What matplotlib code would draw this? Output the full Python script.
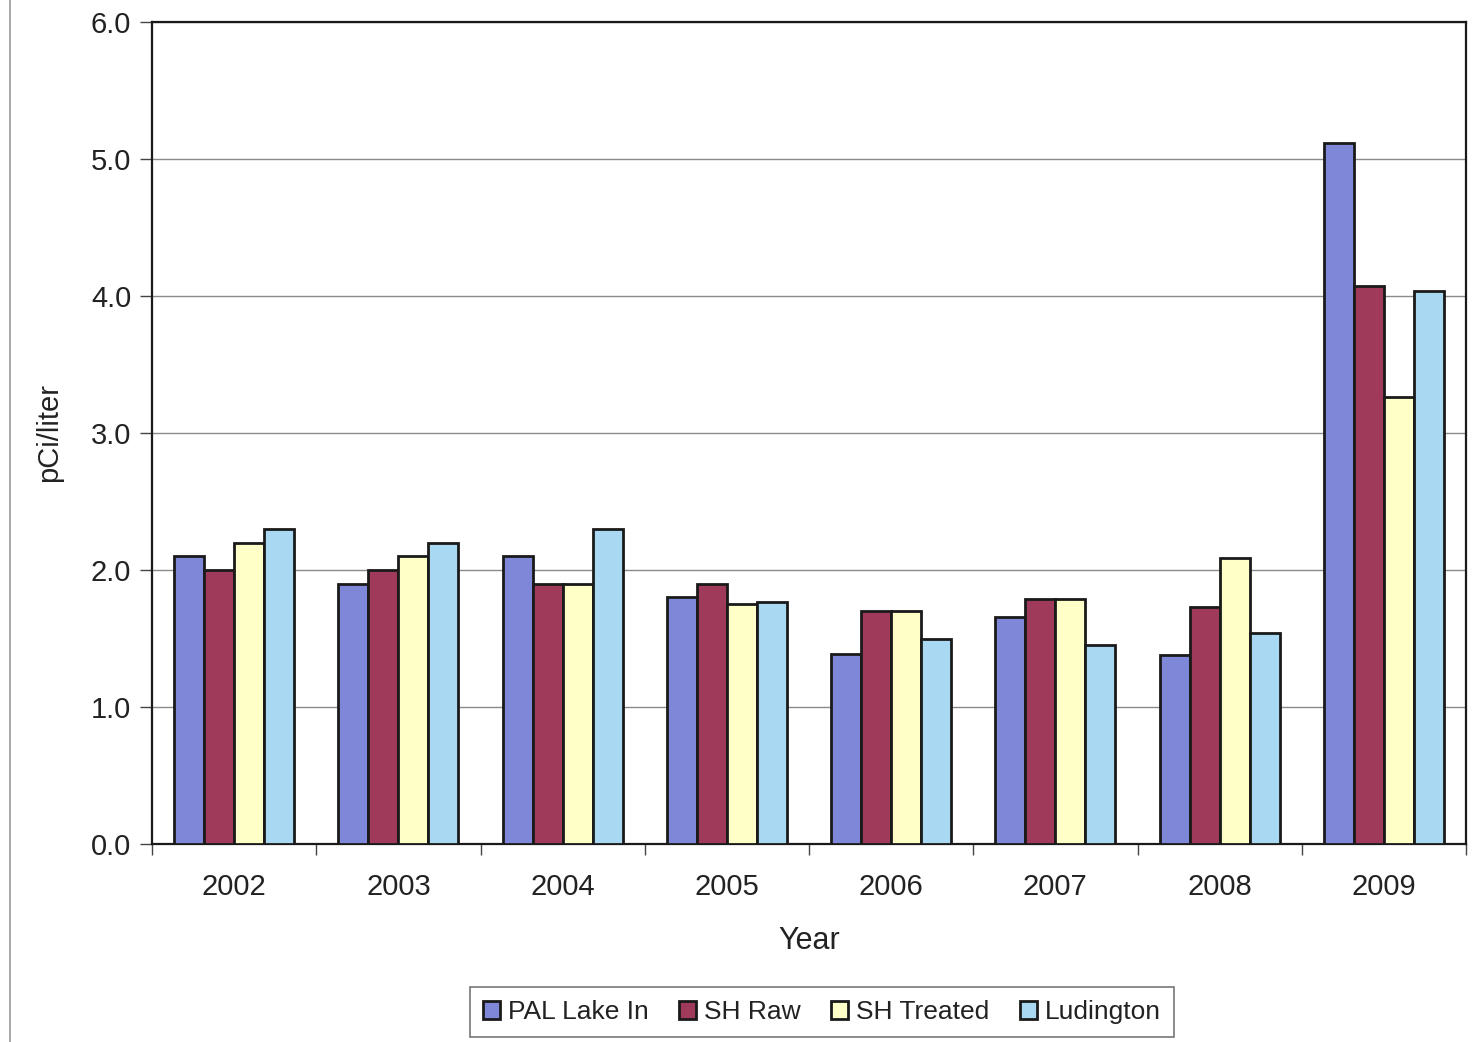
import numpy as np
from matplotlib import pyplot as plt
from matplotlib.lines import Line2D

plt.rcParams["font.family"] = ["Liberation Sans", "DejaVu Sans"]

years = ["2002", "2003", "2004", "2005", "2006", "2007", "2008", "2009"]
pal_lake_in = [2.1, 1.9, 2.1, 1.80, 1.39, 1.66, 1.38, 5.12]
sh_raw = [2.0, 2.0, 1.9, 1.90, 1.70, 1.79, 1.73, 4.07]
sh_treated = [2.2, 2.1, 1.9, 1.75, 1.70, 1.79, 2.09, 3.26]
ludington = [2.3, 2.2, 2.3, 1.77, 1.50, 1.45, 1.54, 4.04]

series = [
    ("PAL Lake In", pal_lake_in, "#7F88D8"),
    ("SH Raw", sh_raw, "#A03A5A"),
    ("SH Treated", sh_treated, "#FFFFC8"),
    ("Ludington", ludington, "#A8D8F2"),
]

fig = plt.figure(figsize=(14.78, 10.42), dpi=100)
ax = fig.add_axes([152 / 1478, 1 - 844 / 1042, (1466 - 152) / 1478, (844 - 22) / 1042])

x = np.arange(len(years))
bar_w = 0.183
for i, (name, vals, color) in enumerate(series):
    ax.bar(x + (i - 1.5) * bar_w, vals, width=bar_w, color=color,
           edgecolor="#1a1a1a", linewidth=2.0, label=name, zorder=3)

ax.set_xlim(-0.5, len(years) - 0.5)
ax.set_ylim(0, 6)
ax.set_yticks(np.arange(0, 6.1, 1.0))
ax.set_yticklabels([f"{v:.1f}" for v in np.arange(0, 6.1, 1.0)], fontsize=21, color="#222222")
ax.yaxis.grid(True, color="#8a8a8a", linewidth=1.0, zorder=0)
ax.set_axisbelow(True)

ax.set_xticks(x)
ax.set_xticklabels(years, fontsize=21, color="#222222")
ax.tick_params(axis="x", which="major", length=0, pad=21)
ax.set_xticks(np.arange(-0.5, len(years), 1.0), minor=True)
ax.tick_params(axis="x", which="minor", length=8, width=1, color="#444444")
ax.tick_params(axis="y", length=9, width=1, color="#444444", pad=6)

for s in ax.spines.values():
    s.set_linewidth(1.6)
    s.set_color("#1a1a1a")

ax.set_xlabel("Year", fontsize=22, labelpad=18, color="#222222")
ax.set_ylabel("pCi/liter", fontsize=21, labelpad=20, color="#222222")

fig.add_artist(Line2D([10 / 1478, 10 / 1478], [0, 1], color="#9a9a9a", linewidth=1.2))

leg = fig.legend(loc="center", bbox_to_anchor=(822 / 1478, 1 - 1012 / 1042), ncol=4,
                 fontsize=19, frameon=True, fancybox=False, edgecolor="#555555",
                 handlelength=0.65, handleheight=0.65, handletextpad=0.3,
                 columnspacing=1.15, borderpad=0.5)
leg.get_frame().set_linewidth(1.2)
for t in leg.get_texts():
    t.set_color("#222222")

plt.savefig("out.png", dpi=100)
plt.close(fig)
